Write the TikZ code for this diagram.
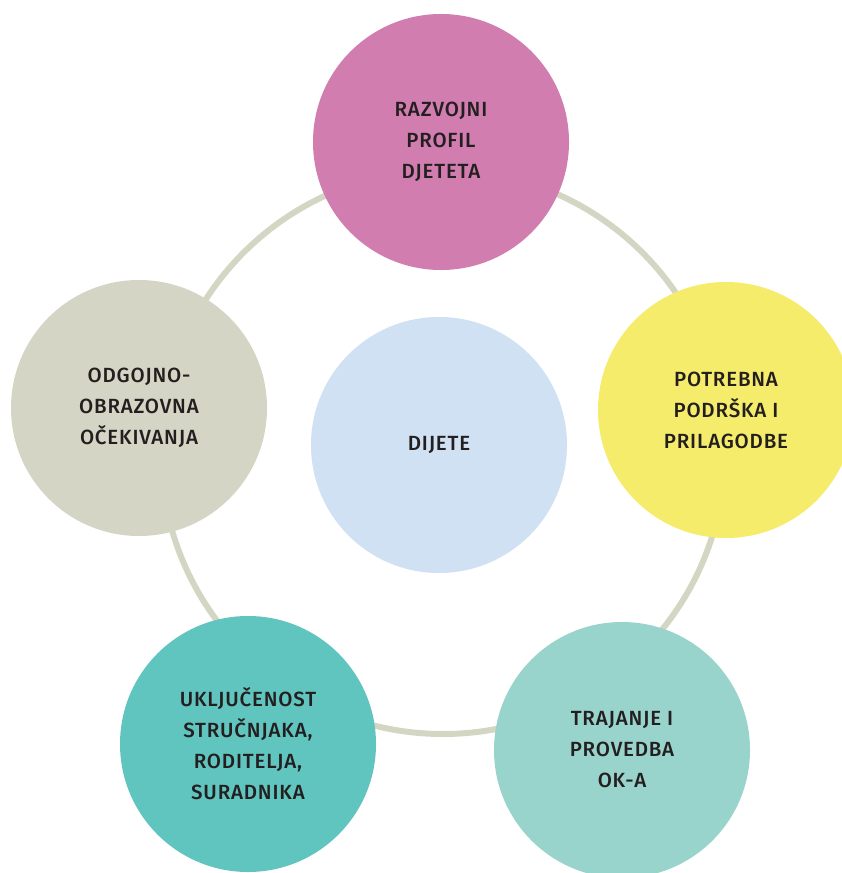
\documentclass[tikz,border=0pt]{standalone}
\usepackage{fontspec}
\setmainfont{Fira Sans Medium}[LetterSpace=4]
\definecolor{ringgray}{HTML}{D4D6C4}
\definecolor{pink}{HTML}{D17DAF}
\definecolor{lemon}{HTML}{F6EC6B}
\definecolor{sage}{HTML}{D4D5C4}
\definecolor{teal}{HTML}{61C5BF}
\definecolor{mint}{HTML}{98D4CC}
\definecolor{skyblue}{HTML}{CFE1F2}
\definecolor{ink}{HTML}{231F20}
\tikzset{
  bubble/.style={circle, minimum size=7.68cm, inner sep=0pt, align=center,
    text=ink, font=\fontsize{17.5}{26.5}\selectfont}
}

\begin{document}
\begin{tikzpicture}[x=0.03cm,y=-0.03cm]
\useasboundingbox (0,0) rectangle (841,873);
%\draw [help lines, step=100] (0,0) grid (841,873);
% the ring behind
\draw [ringgray, line width=0.18cm] (443,452) circle (282);
% outer circles
\node [bubble, fill=pink]  (profil)   at (441,142) {RAZVOJNI\\PROFIL\\DJETETA};
\node [bubble, fill=lemon] (podrska)  at (726,410) {POTREBNA\\PODRŠKA I\\PRILAGODBE};
\node [bubble, fill=mint]  (trajanje) at (622,750) {TRAJANJE I\\PROVEDBA\\OK-A};
\node [bubble, fill=teal]  (ukljuc)   at (248,744) {UKLJUČENOST\\STRUČNJAKA,\\RODITELJA,\\SURADNIKA};
\node [bubble, fill=sage]  (ocekiv)   at (139,408) {ODGOJNO-\\OBRAZOVNA\\OČEKIVANJA};
% centre
\node [bubble, fill=skyblue] (dijete) at (439,445) {DIJETE};
\end{tikzpicture}
\end{document}
